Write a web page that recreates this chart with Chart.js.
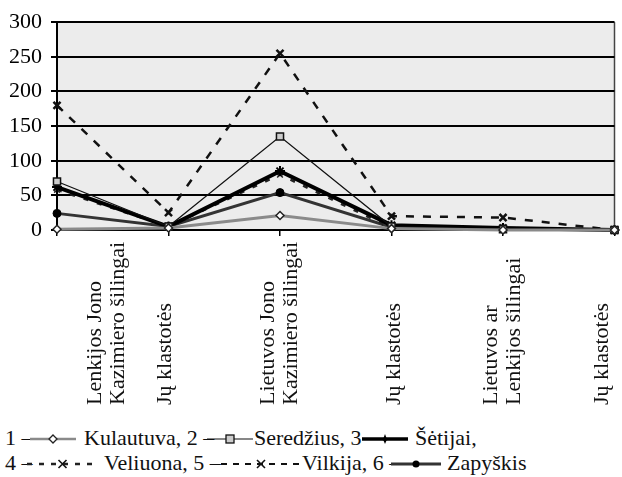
<!DOCTYPE html>
<html>
<head>
<meta charset="utf-8">
<script src="https://cdn.jsdelivr.net/npm/chart.js@4.4.1/dist/chart.umd.min.js"></script>
<style>
  html, body { margin: 0; padding: 0; background: #fff; }
  #wrap { position: relative; width: 622px; height: 477px; overflow: hidden; }
  #chart { position: absolute; left: 0; top: 0; }
  .leg { position: absolute; font-family: 'Liberation Serif', serif; font-size: 22px; color: #111; white-space: pre; line-height: 24px; }
  .leg svg { position: absolute; top: 2px; }
</style>
</head>
<body>
<div id="wrap">
  <canvas id="chart" width="622" height="420"></canvas>
  <div id="legend"></div>
</div>
<script>
// categories (x axis)
const categories = [
  ['Lenkijos Jono', 'Kazimiero šilingai'],
  ['Jų klastotės'],
  ['Lietuvos Jono', 'Kazimiero šilingai'],
  ['Jų klastotės'],
  ['Lietuvos ar', 'Lenkijos šilingai'],
  ['Jų klastotės']
];

const seriesNames = ['Kulautuva', 'Seredžius', 'Šėtijai', 'Veliuona', 'Vilkija', 'Zapyškis'];

// values per series
const kulautuva = [1, 3, 21, 2, 0, 0];
const seredzius = [70, 5, 135, 5, 1, 0];
const setijai   = [62, 5, 85, 7, 3, 0];
const veliuona  = [58, 5, 80, 3, 1, 0];
const vilkija   = [180, 25, 255, 20, 18, 0];
const zapyskis  = [24, 5, 54, 4, 2, 0];

const yTicks = [0, 50, 100, 150, 200, 250, 300];

const serifFamily = "'Liberation Serif', serif";

// grey plot area + right frame line
const plotBg = {
  id: 'plotBg',
  beforeDraw(chart) {
    const { ctx, chartArea: a } = chart;
    ctx.save();
    ctx.fillStyle = '#ececec';
    ctx.fillRect(a.left, a.top, a.right - a.left, a.bottom - a.top);
    ctx.strokeStyle = '#444';
    ctx.lineWidth = 1.5;
    ctx.beginPath();
    ctx.moveTo(a.right, a.top);
    ctx.lineTo(a.right, a.bottom);
    ctx.stroke();
    ctx.restore();
  }
};

// vertical category labels, start-aligned at the bottom like the original
const labelShift = [50, -3, 0, 3, 0, -12];
const vertLabels = {
  id: 'vertLabels',
  afterDraw(chart) {
    const { ctx } = chart;
    const x = chart.scales.x;
    ctx.save();
    ctx.font = "22px 'Liberation Serif', serif";
    ctx.fillStyle = '#111';
    ctx.textAlign = 'left';
    ctx.textBaseline = 'middle';
    categories.forEach((lines, i) => {
      const px = x.getPixelForValue(i) + labelShift[i];
      ctx.save();
      ctx.translate(px, 405);
      ctx.rotate(-Math.PI / 2);
      lines.forEach((t, j) => {
        const off = (j - (lines.length - 1) / 2) * 23;
        ctx.fillText(t, 0, off);
      });
      ctx.restore();
    });
    ctx.restore();
  }
};

const ctx = document.getElementById('chart').getContext('2d');
new Chart(ctx, {
  type: 'line',
  data: {
    labels: categories.map(c => c.join(' ')),
    datasets: [
      {
        label: seriesNames[0], data: kulautuva,
        borderColor: '#8a8a8a', borderWidth: 3,
        pointStyle: 'rectRot', pointRadius: 4,
        pointBackgroundColor: '#fff', pointBorderColor: '#222', pointBorderWidth: 1.5
      },
      {
        label: seriesNames[1], data: seredzius,
        borderColor: '#111', borderWidth: 1.2,
        pointStyle: 'rect', pointRadius: 5,
        pointBackgroundColor: '#ccc', pointBorderColor: '#111', pointBorderWidth: 1.5
      },
      {
        label: seriesNames[2], data: setijai,
        borderColor: '#000', borderWidth: 4,
        pointStyle: 'star', pointRadius: 5,
        pointBackgroundColor: '#000', pointBorderColor: '#000', pointBorderWidth: 2
      },
      {
        label: seriesNames[3], data: veliuona,
        borderColor: '#222', borderWidth: 2.5, borderDash: [5, 9],
        pointStyle: 'crossRot', pointRadius: 4,
        pointBorderColor: '#222', pointBorderWidth: 1.5
      },
      {
        label: seriesNames[4], data: vilkija,
        borderColor: '#111', borderWidth: 2.5, borderDash: [8, 9],
        pointStyle: 'crossRot', pointRadius: 5,
        pointBorderColor: '#111', pointBorderWidth: 2.5
      },
      {
        label: seriesNames[5], data: zapyskis,
        borderColor: '#333', borderWidth: 3,
        pointStyle: 'circle', pointRadius: 4,
        pointBackgroundColor: '#000', pointBorderColor: '#000', pointBorderWidth: 1
      }
    ]
  },
  options: {
    responsive: false,
    animation: false,
    devicePixelRatio: 1,
    clip: false,
    layout: { padding: { left: 0, top: 17, right: 3, bottom: 184 } },
    plugins: {
      legend: { display: false },
      tooltip: { enabled: false }
    },
    elements: { line: { tension: 0, fill: false } },
    scales: {
      x: {
        ticks: { display: false },
        grid: { drawOnChartArea: false, drawTicks: true, tickLength: 6, color: '#000', lineWidth: 1.5 },
        border: { color: '#000', width: 2 }
      },
      y: {
        min: yTicks[0],
        max: yTicks[yTicks.length - 1],
        afterBuildTicks(scale) { scale.ticks = yTicks.map(v => ({ value: v })); },
        ticks: { color: '#000', padding: 9, font: { family: serifFamily, size: 22 } },
        grid: { color: '#000', lineWidth: 2, tickLength: 6 },
        border: { color: '#000', width: 2 }
      }
    }
  },
  plugins: [plotBg, vertLabels]
});

// legend: "1 – [sample] Kulautuva, 2 – ..." in two rows like the print
function sample(i, w) {
  const m = w / 2, y = 11;
  const dash = { 3: '5 7', 4: '6 6' }[i] || '';
  const line = ['#8a8a8a', '#111', '#000', '#222', '#111', '#333'][i];
  const lw = [2.5, 1.2, 3.5, 2.5, 2, 3][i];
  let mark = '';
  if (i === 0) mark = `<path d="M${m} ${y-4}L${m+4} ${y}L${m} ${y+4}L${m-4} ${y}Z" fill="#fff" stroke="#222" stroke-width="1.3"/>`;
  if (i === 1) mark = `<rect x="${m-4}" y="${y-4}" width="8" height="8" fill="#ccc" stroke="#111" stroke-width="1.3"/>`;
  if (i === 2) mark = `<path d="M${m} ${y-5}L${m+1.5} ${y-1}L${m+5} ${y}L${m+1.5} ${y+1.5}L${m} ${y+5}L${m-1.5} ${y+1.5}L${m-5} ${y}L${m-1.5} ${y-1}Z" fill="#000"/>`;
  if (i === 3 || i === 4) mark = `<path d="M${m-4} ${y-4}L${m+4} ${y+4}M${m+4} ${y-4}L${m-4} ${y+4}" stroke="#111" stroke-width="1.6"/>`;
  if (i === 5) mark = `<circle cx="${m}" cy="${y}" r="3.5" fill="#000"/>`;
  return `<svg width="${w}" height="22"><line x1="0" y1="${y}" x2="${w}" y2="${y}" stroke="${line}" stroke-width="${lw}" stroke-dasharray="${dash}"/>${mark}</svg>`;
}

const legendRows = [
  { top: 426, idx: [0, 1, 2], text: [5, 84, 254, 415], svg: [[30, 46], [207, 46], [362, 46]] },
  { top: 451, idx: [3, 4, 5], text: [5, 104, 302, 447], svg: [[27, 71], [221, 80], [391, 50]] }
];
const legend = document.getElementById('legend');
legendRows.forEach(row => {
  const parts = [];
  const first = row.idx[0];
  parts.push([row.text[0], (first + 1) + ' –']);
  row.idx.forEach((s, k) => {
    const tail = s === seriesNames.length - 1 ? seriesNames[s] : seriesNames[s] + ',' + (k < 2 ? ' ' + (s + 2) + ' –' : '');
    parts.push([row.text[k + 1], tail]);
  });
  parts.forEach(([x, t]) => {
    const d = document.createElement('div');
    d.className = 'leg';
    d.style.left = x + 'px';
    d.style.top = row.top + 'px';
    d.textContent = t;
    legend.appendChild(d);
  });
  row.idx.forEach((s, k) => {
    const d = document.createElement('div');
    d.className = 'leg';
    d.style.left = row.svg[k][0] + 'px';
    d.style.top = row.top + 'px';
    d.innerHTML = sample(s, row.svg[k][1]);
    legend.appendChild(d);
  });
});
</script>
</body>
</html>
